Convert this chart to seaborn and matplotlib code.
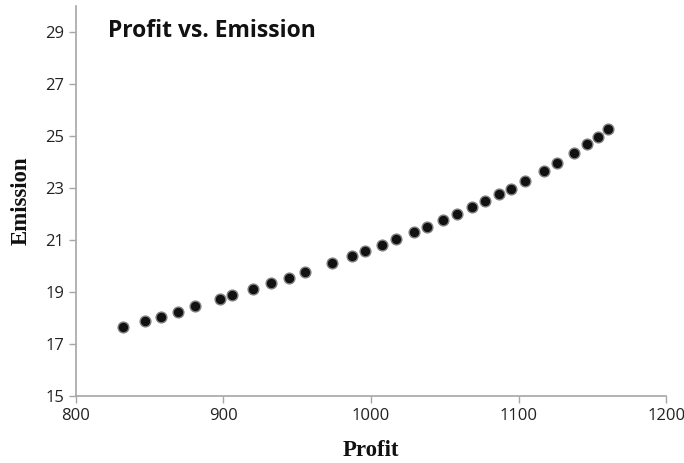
import pandas as pd
import matplotlib.pyplot as plt
import seaborn as sns

# === Data ===
profit = [832, 847, 857.4, 869, 881, 897.5, 906, 919.7, 932, 944.4, 955.3,
          973.2, 987, 996, 1007.5, 1017, 1029, 1038, 1048.5, 1058.5, 1068.3,
          1077.4, 1087, 1095, 1104.5, 1117.5, 1126, 1137.4, 1146.5, 1153.7, 1160.7]
emission = [17.65, 17.87, 18.05, 18.24, 18.45, 18.72, 18.87, 19.12, 19.33, 19.55, 19.77,
            20.12, 20.38, 20.59, 20.82, 21.04, 21.31, 21.51, 21.76, 22.01, 22.26,
            22.49, 22.76, 22.97, 23.27, 23.67, 23.95, 24.35, 24.68, 24.96, 25.28]
x_ticks = [800, 900, 1000, 1100, 1200]
y_ticks = [15, 17, 19, 21, 23, 25, 27, 29]

df = pd.DataFrame({"Profit": profit, "Emission": emission})

# === Style ===
sns.set_style("white")
plt.rcParams['font.family'] = ['Open Sans', 'DejaVu Sans']

fig = plt.figure(figsize=(6.84, 4.63), dpi=100)
ax = fig.add_axes([0.111, 0.145, 0.863, 0.842])

sns.scatterplot(data=df, x="Profit", y="Emission", ax=ax, s=60,
                color="#111111", edgecolor="#808080", linewidth=1.0)

ax.set_xlim(800, 1200)
ax.set_ylim(15, 30)
ax.set_xticks(x_ticks)
ax.set_yticks(y_ticks)
ax.tick_params(axis='both', direction='out', length=5, width=1, color="#a6a6a6",
               labelsize=12, labelcolor="#222222", bottom=True, left=True)

for side in ['top', 'right']:
    ax.spines[side].set_visible(False)
for side in ['left', 'bottom']:
    ax.spines[side].set_color("#a6a6a6")
    ax.spines[side].set_linewidth(1.2)

ax.set_xlabel("Profit", fontsize=16.5, fontweight='bold', family='Liberation Serif',
              color="#111111", labelpad=12)
ax.set_ylabel("Emission", fontsize=16.5, fontweight='bold', family='Liberation Serif',
              color="#111111", labelpad=10)

ax.text(0.054, 0.935, "Profit vs. Emission", transform=ax.transAxes,
        fontsize=16.5, fontweight='bold', color="#111111", va='center', ha='left')

plt.savefig("out.png", dpi=100)
